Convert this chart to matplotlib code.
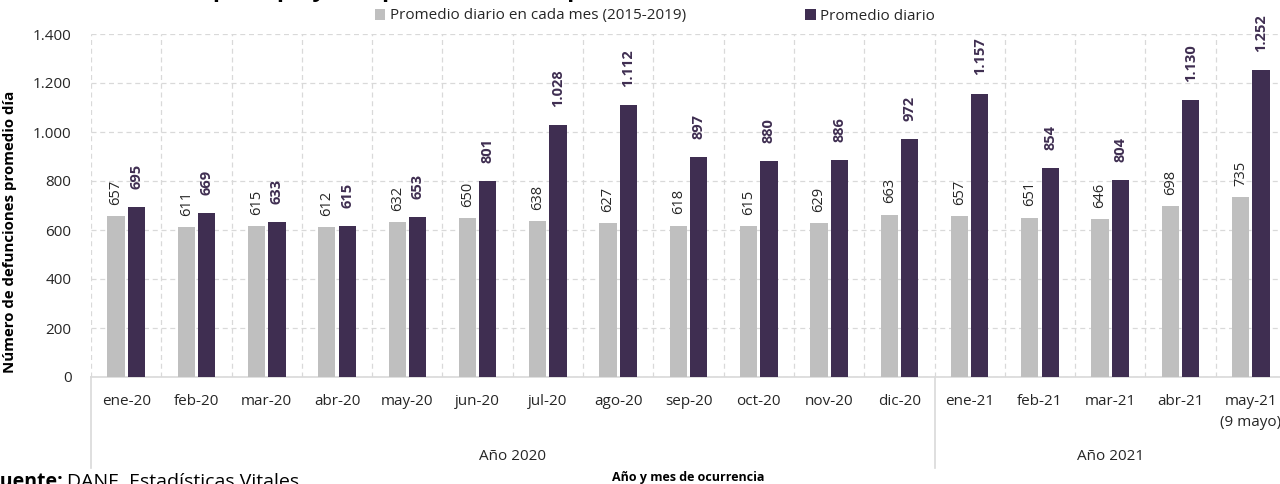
import matplotlib
matplotlib.use("Agg")
import matplotlib.pyplot as plt
import matplotlib.transforms as mtransforms
from matplotlib.patches import Patch
from matplotlib.lines import Line2D
import numpy as np

plt.rcParams['font.family'] = ['Open Sans', 'DejaVu Sans']

months = ["ene-20", "feb-20", "mar-20", "abr-20", "may-20", "jun-20", "jul-20", "ago-20",
          "sep-20", "oct-20", "nov-20", "dic-20", "ene-21", "feb-21", "mar-21", "abr-21",
          "may-21\n(9 mayo)"]
avg_2015_2019 = [657, 611, 615, 612, 632, 650, 638, 627, 618, 615, 629, 663, 657, 651, 646, 698, 735]
daily_avg = [695, 669, 633, 615, 653, 801, 1028, 1112, 897, 880, 886, 972, 1157, 854, 804, 1130, 1252]
years = ["Año 2020", "Año 2021"]
year_spans = [(0, 11), (12, 16)]
series_names = ["Promedio diario en cada mes (2015-2019)", "Promedio diario"]
yticks = [0, 200, 400, 600, 800, 1000, 1200, 1400]

GRAY = "#bfbfbf"
PURPLE = "#3f2e51"

W, H = 1280, 484
fig = plt.figure(figsize=(W / 100, H / 100), dpi=100)
ax_l, ax_r, ax_t, ax_b = 91, 1286, 34, 377
ax = fig.add_axes([ax_l / W, 1 - ax_b / H, (ax_r - ax_l) / W, (ax_b - ax_t) / H])

def fmt(v):
    return f"{v:,}".replace(",", ".")

x = np.arange(len(months))
bw = 0.245
off = 0.145
ax.bar(x - off, avg_2015_2019, width=bw, color=GRAY, zorder=3)
ax.bar(x + off, daily_avg, width=bw, color=PURPLE, zorder=3)

for xi, v in zip(x, avg_2015_2019):
    ax.annotate(fmt(v), (xi - off, v), xytext=(0, 8), textcoords="offset points",
                rotation=90, ha="center", va="bottom", fontsize=10.5, color="#262626")
for xi, v in zip(x, daily_avg):
    ax.annotate(fmt(v), (xi + off, v), xytext=(0, 13), textcoords="offset points",
                rotation=90, ha="center", va="bottom", fontsize=10.5, color=PURPLE,
                fontweight="bold")

ax.set_xlim(-0.5, len(months) - 0.5)
ax.set_ylim(0, 1400)
ax.set_yticks(yticks)
ax.set_yticklabels([fmt(v) for v in yticks], fontsize=11, color="#262626")
ax.set_xticks(x)
ax.set_xticklabels(months, fontsize=11, color="#262626", linespacing=1.55)
for lbl in ax.get_xticklabels():
    lbl.set_verticalalignment("top")
ax.set_xticks(np.arange(len(months) + 1) - 0.5, minor=True)
ax.tick_params(axis="both", which="both", length=0)
ax.tick_params(axis="x", which="major", pad=12)
ax.tick_params(axis="y", pad=14)

ax.grid(axis="y", which="major", color="#d9d9d9", linestyle=(0, (4, 3)), linewidth=0.9, zorder=0)
ax.grid(axis="x", which="minor", color="#d9d9d9", linestyle=(0, (4, 3)), linewidth=0.9, zorder=0)
ax.grid(axis="x", which="major", visible=False)
for s in ["top", "right", "left"]:
    ax.spines[s].set_visible(False)
ax.spines["bottom"].set_color("#d9d9d9")
ax.spines["bottom"].set_linewidth(1.2)

ax.set_ylabel("Número de defunciones promedio día", fontsize=10.8, fontweight="bold",
              color="#000000")
ax.yaxis.set_label_coords((17 - ax_l) / (ax_r - ax_l), (ax_b - 232) / (ax_b - ax_t))

trans = mtransforms.blended_transform_factory(ax.transData, ax.transAxes)
sep_bottom = -(468 - ax_b) / (ax_b - ax_t)
for xs in [-0.5, 11.5, 16.5]:
    ax.add_line(Line2D([xs, xs], [0, sep_bottom], transform=trans, color="#d9d9d9",
                       linewidth=1.2, clip_on=False))
year_y = -(457 - ax_b) / (ax_b - ax_t)
for name, (a, b) in zip(years, year_spans):
    ax.text((a + b) / 2, year_y, name, transform=trans, ha="center", va="center",
            fontsize=11, color="#262626")

fig.text(688 / W, 1 - 477 / H, "Año y mes de ocurrencia", ha="center", va="center",
         fontsize=9, fontweight="bold", color="#000000")

fig.text(-11 / W, 1 - 487 / H, "Fuente:", ha="left", va="baseline", fontsize=14,
         fontweight="bold", color="#000000")
fig.text(67 / W, 1 - 487 / H, "DANE, Estadísticas Vitales", ha="left", va="baseline",
         fontsize=14, color="#000000")

fig.text(60 / W, 1 + 4 / H, "Defunciones por tipo y comparación con el promedio",
         ha="left", va="baseline", fontsize=17, fontweight="bold", color="#000000")

handles = [Patch(facecolor=GRAY, edgecolor="none"), Patch(facecolor=PURPLE, edgecolor="none")]
fig.legend(handles, series_names, loc="center", bbox_to_anchor=(655 / W, 1 - 16 / H), ncol=2,
           frameon=False, fontsize=11, handlelength=0.7, handleheight=0.7,
           handletextpad=0.3, columnspacing=7.8, borderpad=0, labelcolor="#262626")

fig.savefig("out.png", dpi=100)
